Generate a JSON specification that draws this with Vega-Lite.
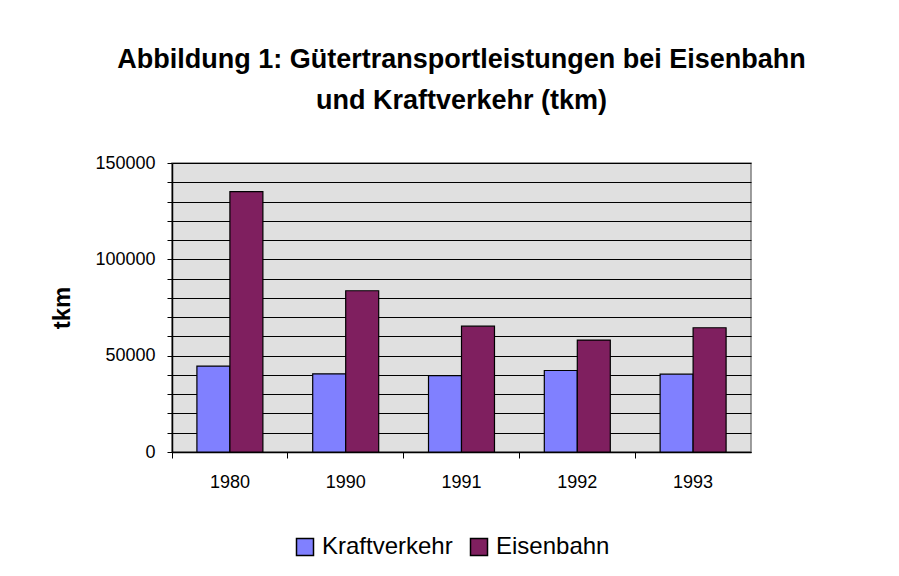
{
  "$schema": "https://vega.github.io/schema/vega-lite/v6.json",
  "width": 579,
  "height": 289,
  "autosize": {"type": "none"},
  "padding": {"left": 172, "top": 163, "right": 148, "bottom": 124},
  "background": "#FFFFFF",
  "title": {
    "text": ["Abbildung 1: Gütertransportleistungen bei Eisenbahn", "und Kraftverkehr (tkm)"],
    "font": "Liberation Sans",
    "fontSize": 27,
    "fontWeight": "bold",
    "color": "#000000",
    "lineHeight": 41,
    "anchor": "middle",
    "offset": 39
  },
  "data": {
    "values": [
      {"Jahr": "1980", "Verkehr": "Kraftverkehr", "tkm": 44600},
      {"Jahr": "1980", "Verkehr": "Eisenbahn", "tkm": 135100},
      {"Jahr": "1990", "Verkehr": "Kraftverkehr", "tkm": 40600},
      {"Jahr": "1990", "Verkehr": "Eisenbahn", "tkm": 83700},
      {"Jahr": "1991", "Verkehr": "Kraftverkehr", "tkm": 39600},
      {"Jahr": "1991", "Verkehr": "Eisenbahn", "tkm": 65300},
      {"Jahr": "1992", "Verkehr": "Kraftverkehr", "tkm": 42300},
      {"Jahr": "1992", "Verkehr": "Eisenbahn", "tkm": 58100},
      {"Jahr": "1993", "Verkehr": "Kraftverkehr", "tkm": 40400},
      {"Jahr": "1993", "Verkehr": "Eisenbahn", "tkm": 64500}
    ]
  },
  "mark": {"type": "bar", "stroke": "#000000", "strokeWidth": 1.2, "opacity": 1},
  "encoding": {
    "x": {
      "field": "Jahr",
      "type": "nominal",
      "scale": {"paddingInner": 0, "paddingOuter": 0},
      "axis": {
        "title": null,
        "labelAngle": 0,
        "bandPosition": 0,
        "labelFont": "Liberation Sans",
        "labelFontSize": 18,
        "labelColor": "#000000",
        "labelPadding": 15,
        "labelBaseline": "top",
        "tickSize": 6,
        "tickColor": "#000000",
        "domainColor": "#000000",
        "domainWidth": 1.5,
        "labelOffset": 0
      }
    },
    "xOffset": {
      "field": "Verkehr",
      "type": "nominal",
      "sort": ["Kraftverkehr", "Eisenbahn"],
      "scale": {"paddingInner": 0, "paddingOuter": 0.755}
    },
    "y": {
      "field": "tkm",
      "type": "quantitative",
      "scale": {"domain": [0, 150000], "nice": false},
      "axis": {
        "title": "tkm",
        "titleFont": "Liberation Sans",
        "titleFontSize": 24,
        "titleFontWeight": "bold",
        "titleColor": "#000000",
        "titlePadding": 20,
        "values": [0, 10000, 20000, 30000, 40000, 50000, 60000, 70000, 80000, 90000, 100000, 110000, 120000, 130000, 140000, 150000],
        "labelExpr": "datum.value % 50000 === 0 ? format(datum.value, 'd') : ''",
        "labelFont": "Liberation Sans",
        "labelFontSize": 18,
        "labelColor": "#000000",
        "labelPadding": 12,
        "tickSize": 5,
        "tickColor": "#000000",
        "domainColor": "#000000",
        "domainWidth": 1.5,
        "grid": true,
        "gridColor": "#000000",
        "gridOpacity": 1,
        "gridWidth": 1
      }
    },
    "color": {
      "field": "Verkehr",
      "type": "nominal",
      "scale": {"domain": ["Kraftverkehr", "Eisenbahn"], "range": ["#8080FF", "#7F1F5F"]},
      "legend": {
        "title": null,
        "orient": "none",
        "direction": "horizontal",
        "legendX": 121,
        "legendY": 372,
        "symbolType": "square",
        "symbolSize": 289,
        "symbolStrokeColor": "#000000",
        "symbolStrokeWidth": 1.5,
        "symbolOpacity": 1,
        "labelFont": "Liberation Sans",
        "labelFontSize": 24,
        "labelColor": "#000000",
        "labelOffset": 5,
        "columnPadding": 14,
        "labelLimit": 300
      }
    }
  },
  "config": {
    "view": {"fill": "#E0E0E0", "stroke": "#808080", "strokeWidth": 1.5}
  }
}
